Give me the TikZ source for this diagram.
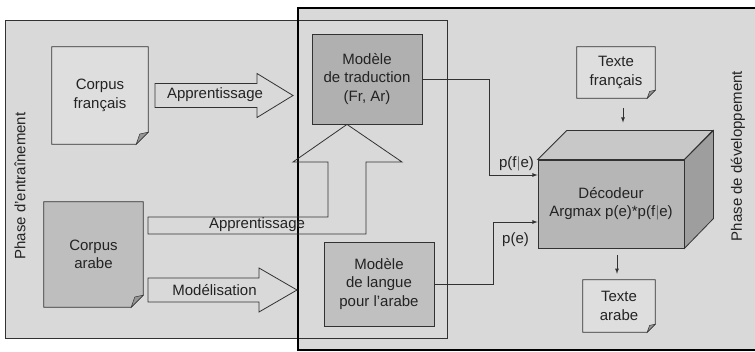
\documentclass[tikz,border=0pt]{standalone}
\usepackage{fontspec}
\setmainfont{Liberation Sans}
\usetikzlibrary{%
  arrows,%
  calc%
}
\tikzset{>=latex}
\definecolor{panelgray}{RGB}{217,217,217}
\definecolor{lightnote}{RGB}{222,222,222}
\definecolor{darknote}{RGB}{190,190,190}
\definecolor{modelgray}{RGB}{176,176,176}
\definecolor{langgray}{RGB}{192,192,192}
\definecolor{decfront}{RGB}{182,182,182}
\definecolor{dectop}{RGB}{200,200,200}
\definecolor{decside}{RGB}{158,158,158}
\definecolor{foldgray}{RGB}{150,150,150}
\definecolor{linegray}{RGB}{50,50,50}
\definecolor{txtgray}{RGB}{35,35,35}
\pgfdeclarelayer{panel}
\pgfdeclarelayer{back}
\pgfsetlayers{panel,back,main}
\tikzset{
  every node/.style={font=\fontsize{15}{18.5}\selectfont, text=txtgray, align=center},
  thin line/.style={draw=linegray, line width=0.8pt},
  notebox/.style={inner sep=0pt},
  modelbox/.style={thin line, rectangle, inner sep=0pt},
  blockarrow/.style={thin line, fill=panelgray, line join=miter},
  wire/.style={thin line, ->},
}
% note page with folded corner: name, fill, ear
\newcommand\notepage[3]{%
  \begin{pgfonlayer}{back}
    \draw[thin line, fill=#2] (#1.north west) -- (#1.north east)
      -- ([yshift=#3]#1.south east) -- ([xshift=-#3]#1.south east)
      -- (#1.south west) -- cycle;
    \draw[thin line, fill=foldgray, line width=0.5pt] ([yshift=#3]#1.south east)
      -- ([xshift=-#3]#1.south east) -- ([xshift=-0.7*#3, yshift=0.85*#3]#1.south east) -- cycle;
  \end{pgfonlayer}}

\begin{document}
\begin{tikzpicture}[x=1pt,y=-1pt]
        \useasboundingbox (0,0) rectangle (755,352);
        \clip (0,0) rectangle (755,352);
        % panels
        \begin{pgfonlayer}{panel}
          \fill[panelgray] (5,20) rectangle (447,338);
          \fill[panelgray] (298,8) rectangle (770,350);
          \draw[thin line] (5,20) rectangle (447,338);
          \draw[draw=black, line width=2.3pt] (298,8) rectangle (770,350);
        \end{pgfonlayer}
        \node[rotate=90] (phtrain) at (20,186) {Phase d'entraînement};
        \node[rotate=90] (phdev) at (738,156) {Phase de développement};

        % corpora and texts
        \node[notebox, minimum width=96, minimum height=97] (cfr) at (100,95.5) {Corpus\\français};
        \notepage{cfr}{lightnote}{12pt}
        \node[notebox, minimum width=99, minimum height=105] (car) at (93.5,254.5) {Corpus\\arabe};
        \notepage{car}{darknote}{12pt}
        \node[notebox, minimum width=78, minimum height=51] (tfr) at (616,72.5) {Texte\\français};
        \notepage{tfr}{lightnote}{8pt}
        \node[notebox, minimum width=72, minimum height=52] (tar) at (619,306) {Texte\\arabe};
        \notepage{tar}{lightnote}{8pt}

        % models
        \node[modelbox, fill=modelgray, minimum width=110, minimum height=90] (mtr) at (367,79)
        {Modèle\\de traduction\\(Fr, Ar)};
        \node[modelbox, fill=langgray, minimum width=110, minimum height=84] (mlg) at (379,284)
        {Modèle\\de langue\\pour l'arabe};

        % decoder
        \node[modelbox, fill=decfront, minimum width=146, minimum height=88] (dec) at (611,204)
        {Décodeur\\Argmax p(e)*p(f$|$e)};
        \draw[thin line, fill=dectop] (dec.north west) -- ++(29,-29) -- ++(146,0)
        -- (dec.north east) -- cycle;
        \draw[thin line, fill=decside] (dec.north east) -- ++(29,-29) -- ++(0,88)
        -- (dec.south east) -- cycle;

        % block arrows
        \draw[blockarrow] (155,83.5) -- (257,83.5) -- (257,73.5) -- (293,95.5) -- (257,117.5)
        -- (257,107.5) -- (155,107.5) -- cycle;
        \node (lappr) at (215,95) {Apprentissage};
        \draw[blockarrow] (148,278) -- (259,278) -- (259,268) -- (297,290) -- (259,312)
        -- (259,302) -- (148,302) -- cycle;
        \node (lmodl) at (214.5,290) {Modélisation};
        \draw[blockarrow, fill=none] (148,217) -- (328,217) -- (328,162) -- (293,162)
        -- ([xshift=-20pt]mtr.south) -- (402,162) -- (366,162) -- (366,234) -- (148,234) -- cycle;
        \node (lappr2) at (257,225) {Apprentissage};

        % probabilities
        \draw[wire] (mtr.east) -- ++(67,0) |- ([yshift=29pt]dec.west)
        node[above left, name=lpfe] {p(f$|$e)};
        \draw[wire] (mlg.east) -- ++(59,0) |- ([yshift=-18pt]dec.west)
        node[pos=0.75, below=7pt, name=lpe] {p(e)};
        \draw[wire] ([shift={(7,10)}]tfr.south) -- ([shift={(12,-37)}]dec.north);
        \draw[wire] ([shift={(6,7)}]dec.south) -- ([shift={(-2,-6)}]tar.north);
      \end{tikzpicture}
\end{document}
